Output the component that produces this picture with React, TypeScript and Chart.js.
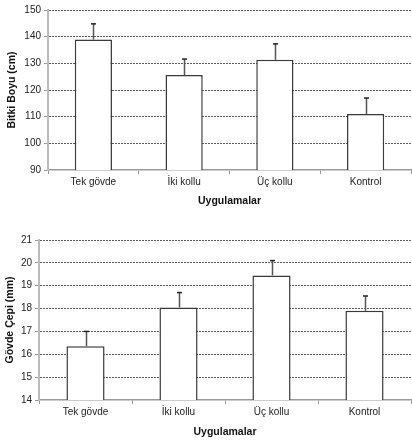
import React, { useEffect, useRef } from "react";
import { Chart, registerables } from "chart.js";

Chart.register(...registerables);

const categories = ["Tek gövde", "İki kollu", "Üç kollu", "Kontrol"];
const heightValues = [138.9, 125.6, 131.3, 111.0];
const heightErrors = [5.9, 6.0, 6.0, 6.0];
const stemValues = [16.35, 18.05, 19.45, 17.9];
const stemErrors = [0.65, 0.65, 0.65, 0.65];
const heightTicks = { min: 90, max: 150, step: 10 };
const stemTicks = { min: 14, max: 21, step: 1 };

const FONT = "'Liberation Sans', Arial, sans-serif";

const errorBarPlugin = {
  id: "errorBars",
  afterDatasetsDraw(chart: any) {
    const errs: number[] = chart.options.plugins.errorBars.errors;
    const vals: number[] = chart.data.datasets[0].data;
    const meta = chart.getDatasetMeta(0);
    const ys = chart.scales.y;
    const ctx = chart.ctx;
    ctx.save();
    meta.data.forEach((bar: any, i: number) => {
      const x = Math.round(bar.x) + 0.5;
      const yTop = ys.getPixelForValue(vals[i] + errs[i]);
      const yBase = bar.y;
      ctx.strokeStyle = "#555555";
      ctx.lineWidth = 1.5;
      ctx.beginPath();
      ctx.moveTo(x, yBase);
      ctx.lineTo(x, yTop);
      ctx.stroke();
      ctx.strokeStyle = "#222222";
      ctx.beginPath();
      ctx.moveTo(x - 2.5, yTop);
      ctx.lineTo(x + 2.5, yTop);
      ctx.stroke();
    });
    ctx.restore();
  },
};

function makeConfig(opts: {
  values: number[];
  errors: number[];
  ticks: { min: number; max: number; step: number };
  yTitle: string;
  yWidth: number;
  xHeight: number;
  padTop: number;
  yTitlePad: number;
  xTitlePad: number;
}): any {
  const { values, errors, ticks } = opts;
  return {
    type: "bar",
    data: {
      labels: categories,
      datasets: [
        {
          data: values,
          backgroundColor: "#ffffff",
          borderColor: "#3a3a3a",
          borderWidth: 1.5,
          borderSkipped: "bottom",
          barPercentage: 0.41,
          categoryPercentage: 1,
        },
      ],
    },
    options: {
      responsive: false,
      animation: false,
      layout: { padding: { top: opts.padTop, right: 1, left: 0, bottom: 0 } },
      plugins: {
        legend: { display: false },
        tooltip: { enabled: false },
        errorBars: { errors },
      },
      scales: {
        x: {
          afterFit(scale: any) {
            scale.height = opts.xHeight;
          },
          grid: {
            display: true,
            drawOnChartArea: false,
            drawTicks: true,
            tickLength: 4,
            color: "#999999",
            offset: true,
          },
          border: { display: true, color: "#9a9a9a", width: 1.5 },
          ticks: {
            color: "#222222",
            font: { family: FONT, size: 10 },
            padding: 2,
            maxRotation: 0,
          },
          title: {
            display: true,
            text: "Uygulamalar",
            color: "#111111",
            font: { family: FONT, size: 10.5, weight: "bold" },
            padding: { top: 0, bottom: opts.xTitlePad },
          },
        },
        y: {
          min: ticks.min,
          max: ticks.max,
          afterFit(scale: any) {
            scale.width = opts.yWidth;
          },
          grid: {
            display: true,
            drawOnChartArea: true,
            drawTicks: true,
            tickLength: 4,
            color: (c: any) =>
              c.tick && c.tick.value === ticks.min ? "rgba(0,0,0,0)" : "#5a5a5a",
            tickColor: "#999999",
            lineWidth: 1,
          },
          border: { display: true, color: "#bbbbbb", width: 2, dash: [2, 1] },
          ticks: {
            stepSize: ticks.step,
            color: "#222222",
            font: { family: FONT, size: 10 },
            padding: 3,
          },
          title: {
            display: true,
            text: opts.yTitle,
            color: "#111111",
            font: { family: FONT, size: 10.5, weight: "bold" },
            padding: { top: opts.yTitlePad, bottom: 0 },
          },
        },
      },
    },
    plugins: [errorBarPlugin],
  };
}

function BarChart(props: { config: any; width: number; height: number; top: number }) {
  const ref = useRef<HTMLCanvasElement | null>(null);
  useEffect(() => {
    if (!ref.current) return;
    const chart = new Chart(ref.current, props.config);
    return () => chart.destroy();
  }, []);
  return (
    <canvas
      ref={ref}
      width={props.width}
      height={props.height}
      style={{ position: "absolute", left: 0, top: props.top, width: props.width, height: props.height }}
    />
  );
}

export default function App() {
  const topCfg = makeConfig({
    values: heightValues,
    errors: heightErrors,
    ticks: heightTicks,
    yTitle: "Bitki Boyu (cm)",
    yWidth: 48,
    xHeight: 51,
    padTop: 10,
    yTitlePad: 6,
    xTitlePad: 14,
  });
  const bottomCfg = makeConfig({
    values: stemValues,
    errors: stemErrors,
    ticks: stemTicks,
    yTitle: "Gövde Çepi (mm)",
    yWidth: 39,
    xHeight: 42,
    padTop: 19,
    yTitlePad: 4,
    xTitlePad: 4,
  });
  return (
    <div style={{ position: "absolute", left: 0, top: 0, width: 412, height: 442, background: "#ffffff" }}>
      <BarChart config={topCfg} width={412} height={221} top={0} />
      <BarChart config={bottomCfg} width={412} height={221} top={221} />
    </div>
  );
}
